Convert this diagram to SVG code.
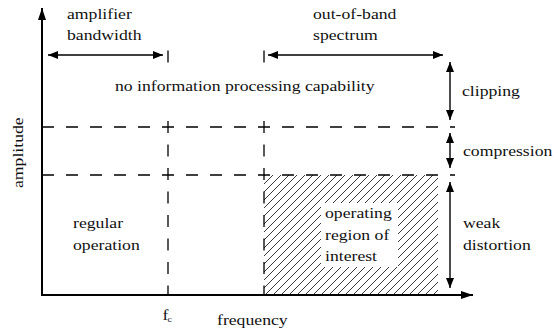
<svg xmlns="http://www.w3.org/2000/svg" width="555" height="333" viewBox="0 0 555 333" font-family="'Liberation Serif', 'DejaVu Serif', serif">
  <style>
    text { font-family: "Liberation Serif", "DejaVu Serif", serif; fill: #111; }
    .lbl { font-size: 14.5px; }
    .sub { font-size: 9px; }
    .axis { stroke: #000; stroke-width: 2; fill: none; }
    .dim { stroke: #000; stroke-width: 1.4; fill: none; }
    .dash-h { stroke: #000; stroke-width: 1.3; fill: none; stroke-dasharray: 12 12; }
    .dash-v { stroke: #000; stroke-width: 1.3; fill: none; stroke-dasharray: 12 11.5; }
  </style>
  <defs>
    <marker id="head" markerUnits="userSpaceOnUse" markerWidth="11" markerHeight="9" refX="10" refY="4" orient="auto-start-reverse">
      <path d="M0,0 L10,4 L0,8 z" fill="#000"/>
    </marker>
    <marker id="axhead" markerUnits="userSpaceOnUse" markerWidth="13" markerHeight="9" refX="12" refY="4" orient="auto">
      <path d="M0,0 L12,4 L0,8 z" fill="#000"/>
    </marker>
    <pattern id="hatch" patternUnits="userSpaceOnUse" width="8" height="8">
      <path d="M-1,1 L1,-1 M0,8 L8,0 M7,9 L9,7" stroke="#222" stroke-width="0.9"/>
    </pattern>
  </defs>

  <!-- hatched operating area -->
  <g id="operating-region">
    <rect x="264" y="175" width="174" height="120" fill="url(#hatch)"/>
    <rect x="321" y="203" width="77" height="64" fill="#fff"/>
  </g>

  <g id="connectors">
    <!-- grid of dashed boundaries -->
    <line class="dash-h" x1="42" y1="127" x2="455" y2="127"/>
    <line class="dash-h" x1="42" y1="175" x2="455" y2="175"/>
    <line class="dash-v" x1="168" y1="50.5" x2="168" y2="295"/>
    <line class="dash-v" x1="264" y1="50.5" x2="264" y2="295"/>
    <!-- blank band behind the top label -->
    <rect x="100" y="64" width="290" height="53" fill="#fff"/>

    <!-- axes -->
    <line class="axis" x1="42" y1="295" x2="42" y2="8" marker-end="url(#axhead)"/>
    <line class="axis" x1="41" y1="295" x2="473" y2="295" marker-end="url(#axhead)"/>

    <!-- bandwidth ranges -->
    <line class="dim" x1="48" y1="55" x2="163" y2="55" marker-start="url(#head)" marker-end="url(#head)"/>
    <line class="dim" x1="268" y1="55" x2="443" y2="55" marker-start="url(#head)" marker-end="url(#head)"/>

    <!-- amplitude ranges -->
    <line class="dim" x1="450" y1="62" x2="450" y2="120" marker-start="url(#head)" marker-end="url(#head)"/>
    <line class="dim" x1="450" y1="133" x2="450" y2="168" marker-start="url(#head)" marker-end="url(#head)"/>
    <line class="dim" x1="450" y1="182" x2="450" y2="288" marker-start="url(#head)" marker-end="url(#head)"/>
  </g>

  <g id="label-amplifier">
    <text class="lbl" transform="translate(67,19) scale(1.22,1)">amplifier</text>
    <text class="lbl" transform="translate(67,40) scale(1.22,1)">bandwidth</text>
  </g>
  <g id="label-outofband">
    <text class="lbl" transform="translate(313,19) scale(1.22,1)">out-of-band</text>
    <text class="lbl" transform="translate(313,40) scale(1.22,1)">spectrum</text>
  </g>
  <g id="label-noinfo">
    <text class="lbl" transform="translate(115,91) scale(1.22,1)">no information processing capability</text>
  </g>
  <g id="label-clipping">
    <text class="lbl" transform="translate(462,96) scale(1.22,1)">clipping</text>
  </g>
  <g id="label-compression">
    <text class="lbl" transform="translate(463,156) scale(1.22,1)">compression</text>
  </g>
  <g id="label-weak">
    <text class="lbl" transform="translate(463,228) scale(1.22,1)">weak</text>
    <text class="lbl" transform="translate(463,250) scale(1.22,1)">distortion</text>
  </g>
  <g id="label-regular">
    <text class="lbl" transform="translate(73,228) scale(1.22,1)">regular</text>
    <text class="lbl" transform="translate(73,250) scale(1.22,1)">operation</text>
  </g>
  <g id="label-operating">
    <text class="lbl" transform="translate(325,218) scale(1.22,1)">operating</text>
    <text class="lbl" transform="translate(325,240) scale(1.22,1)">region of</text>
    <text class="lbl" transform="translate(325,261) scale(1.22,1)">interest</text>
  </g>
  <g id="label-fc">
    <text class="lbl" transform="translate(162.5,320) scale(1.22,1)">f</text>
    <text class="sub" transform="translate(167.5,322) scale(1.1,1)">c</text>
  </g>
  <g id="label-frequency">
    <text class="lbl" transform="translate(217,325) scale(1.22,1)">frequency</text>
  </g>
  <g id="label-amplitude">
    <text class="lbl" transform="translate(22.5,188) rotate(-90) scale(1.22,1)">amplitude</text>
  </g>
</svg>
